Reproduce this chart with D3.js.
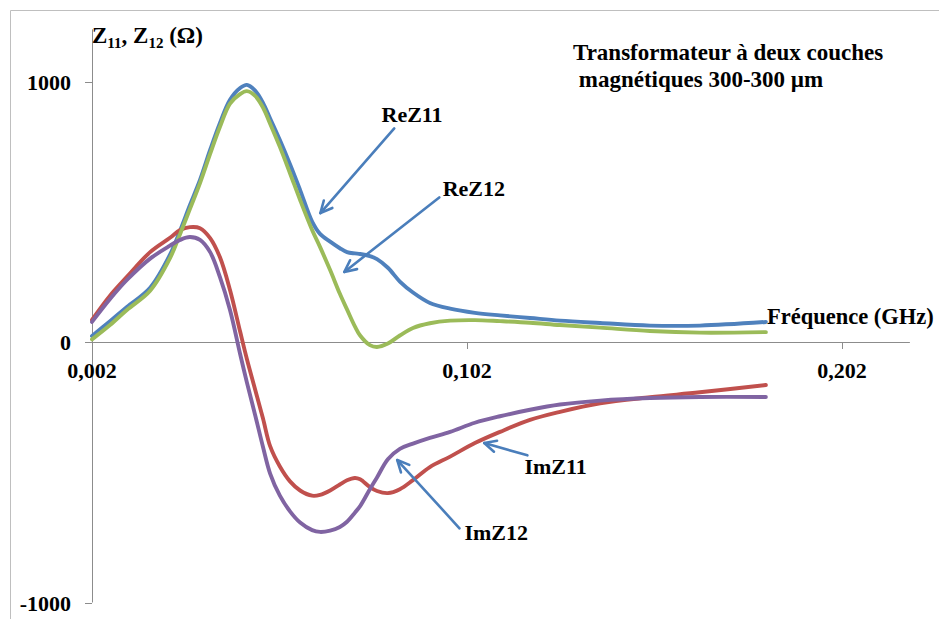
<!DOCTYPE html>
<html>
<head>
<meta charset="utf-8">
<script src="https://cdn.jsdelivr.net/npm/d3@7"></script>
<style>
  html, body { margin: 0; padding: 0; background: #fff; }
  svg { display: block; }
</style>
</head>
<body>
<svg id="chart" width="939" height="619"></svg>
<script>
// ---- data ----
const freq = [0.0020,0.0068,0.0113,0.0175,0.0228,0.0255,0.0281,0.0308,0.0335,0.0361,
              0.0388,0.0415,0.0433,0.0455,0.0476,0.0495,0.0521,0.0548,0.0575,0.0607,
              0.0628,0.0655,0.0681,0.0700,0.0721,0.0735,0.0761,0.0780,0.0809,0.0841,
              0.0876,0.0921,0.0975,0.1041,0.1108,0.1188,0.1268,0.1375,0.1508,0.1641,0.1817];
const reZ11 = [23,80,134,208,335,428,525,622,737,840,930,975,987,965,918,858,775,682,583,462,
               415,385,360,345,340,338,330,318,285,232,190,150,128,112,102,92,82,73,63,63,77];
const reZ12 = [10,65,123,197,322,415,510,610,722,825,915,952,963,945,900,838,749,648,545,430,
               365,276,185,125,60,25,-12,-19,-6,25,54,72,82,84,80,74,65,55,42,36,38];
const imZ11 = [85,178,250,345,400,430,441,437,399,326,200,40,-65,-182,-294,-400,-478,-535,-570,-590,
               -587,-570,-547,-531,-522,-527,-557,-572,-580,-565,-530,-480,-440,-388,-345,-299,-268,-235,-212,-193,-165];
const imZ12 = [77,165,238,320,370,392,403,392,345,250,123,-46,-155,-280,-403,-505,-590,-650,-693,-722,
               -729,-724,-710,-690,-655,-630,-565,-520,-450,-410,-390,-368,-345,-310,-285,-260,-240,-225,-215,-211,-211];
const xTicks = [0.002, 0.102, 0.202];
const xTickLabels = ["0,002", "0,102", "0,202"];
const yTicks = [-1000, 0, 1000];
const yTickLabels = ["-1000", "0", "1000"];
const titleLines = ["Transformateur à deux couches", " magnétiques 300-300 µm"];
const xTitle = "Fréquence (GHz)";
const seriesNames = ["ReZ11", "ImZ11", "ReZ12", "ImZ12"];
const seriesValues = [reZ11, imZ11, reZ12, imZ12];
const seriesColors = ["#4F81BD", "#C0504D", "#9BBB59", "#8064A2"];
// annotation arrows: label, label anchor, [from, to] in data units
const annotations = [
  { label: "ReZ11", lx: 0.0792, ly: 845, from: [0.0826, 820], to: [0.0629, 495] },
  { label: "ReZ12", lx: 0.0955, ly: 560, from: [0.0946, 555], to: [0.0693, 269] },
  { label: "ImZ11", lx: 0.1173, ly: -505, from: [0.1181, -435], to: [0.1066, -388] },
  { label: "ImZ12", lx: 0.1013, ly: -760, from: [0.1000, -715], to: [0.0834, -453] }
];

// ---- layout ----
const FONT = "'Liberation Serif', 'Times New Roman', serif";
const svg = d3.select("#chart");
const x = d3.scaleLinear().domain([0.002, 0.202]).range([92, 842]);
const y = d3.scaleLinear().domain([-1000, 1000]).range([602.5, 81.5]);
const xMax = 0.2201, yMax = 1200;

function txt(sel, size) {
  return sel.append("text").style("font-family", FONT).style("font-weight", "bold")
    .style("font-size", size + "px").attr("fill", "#000");
}

// outer chart border (top and left visible)
svg.append("path").attr("d", "M10.5,619 L10.5,10.5 L939,10.5")
  .attr("fill", "none").attr("stroke", "#BFBFBF").attr("stroke-width", 1);

const axisColor = "#8C8C8C";
// y axis
svg.append("line").attr("x1", x(0.002) + 0.5).attr("x2", x(0.002) + 0.5)
  .attr("y1", y(yMax)).attr("y2", y(-1000))
  .attr("stroke", axisColor).attr("stroke-width", 1);
yTicks.forEach((t, i) => {
  svg.append("line").attr("x1", x(0.002) - 7).attr("x2", x(0.002))
    .attr("y1", Math.round(y(t)) + 0.5).attr("y2", Math.round(y(t)) + 0.5)
    .attr("stroke", axisColor);
  txt(svg, 22).attr("x", 71).attr("y", y(t) + 8)
    .attr("text-anchor", "end").text(yTickLabels[i]);
});
// x axis
svg.append("line").attr("x1", x(0.002) - 7).attr("x2", x(xMax))
  .attr("y1", Math.round(y(0)) + 0.5).attr("y2", Math.round(y(0)) + 0.5)
  .attr("stroke", axisColor).attr("stroke-width", 1);
xTicks.forEach((t, i) => {
  svg.append("line").attr("x1", Math.round(x(t)) + 0.5).attr("x2", Math.round(x(t)) + 0.5)
    .attr("y1", y(0)).attr("y2", y(0) + 7).attr("stroke", axisColor);
  txt(svg, 22).attr("x", x(t)).attr("y", y(0) + 36)
    .attr("text-anchor", "middle").text(xTickLabels[i]);
});

// series
const line = d3.line()
  .x((d, i) => x(freq[i]))
  .y(d => y(d))
  .curve(d3.curveCatmullRom.alpha(0.5));
seriesValues.forEach((vals, k) => {
  svg.append("path").datum(vals)
    .attr("d", line)
    .attr("fill", "none")
    .attr("stroke", seriesColors[k])
    .attr("stroke-width", 3.9)
    .attr("stroke-linejoin", "round")
    .attr("stroke-linecap", "round");
});

// titles
const yT = txt(svg, 23).attr("x", 92).attr("y", 43);
yT.append("tspan").text("Z");
yT.append("tspan").style("font-size", "15px").attr("dy", 5).text("11");
yT.append("tspan").attr("dy", -5).text(", Z");
yT.append("tspan").style("font-size", "15px").attr("dy", 5).text("12");
yT.append("tspan").attr("dy", -5).text(" (Ω)");

txt(svg, 22.5).attr("x", 767).attr("y", 324).text(xTitle);

txt(svg, 23).attr("x", 573).attr("y", 60).text(titleLines[0]);
txt(svg, 23).attr("x", 573).attr("y", 87)
  .attr("xml:space", "preserve").style("white-space", "pre").text(titleLines[1]);

// annotations
const arrowColor = "#4A7EBB";
annotations.forEach(a => {
  const x1 = x(a.from[0]), y1 = y(a.from[1]), x2 = x(a.to[0]), y2 = y(a.to[1]);
  svg.append("line").attr("x1", x1).attr("y1", y1).attr("x2", x2).attr("y2", y2)
    .attr("stroke", arrowColor).attr("stroke-width", 2.6).attr("stroke-linecap", "round");
  const ang = Math.atan2(y1 - y2, x1 - x2);
  const L = 13, spread = 0.45;
  const p1 = [x2 + L * Math.cos(ang + spread), y2 + L * Math.sin(ang + spread)];
  const p2 = [x2 + L * Math.cos(ang - spread), y2 + L * Math.sin(ang - spread)];
  svg.append("path").attr("d", `M${p1[0]},${p1[1]} L${x2},${y2} L${p2[0]},${p2[1]}`)
    .attr("fill", "none").attr("stroke", arrowColor).attr("stroke-width", 2.6)
    .attr("stroke-linecap", "round").attr("stroke-linejoin", "round");
  txt(svg, 22).attr("x", x(a.lx)).attr("y", y(a.ly)).text(a.label);
});
</script>
</body>
</html>
